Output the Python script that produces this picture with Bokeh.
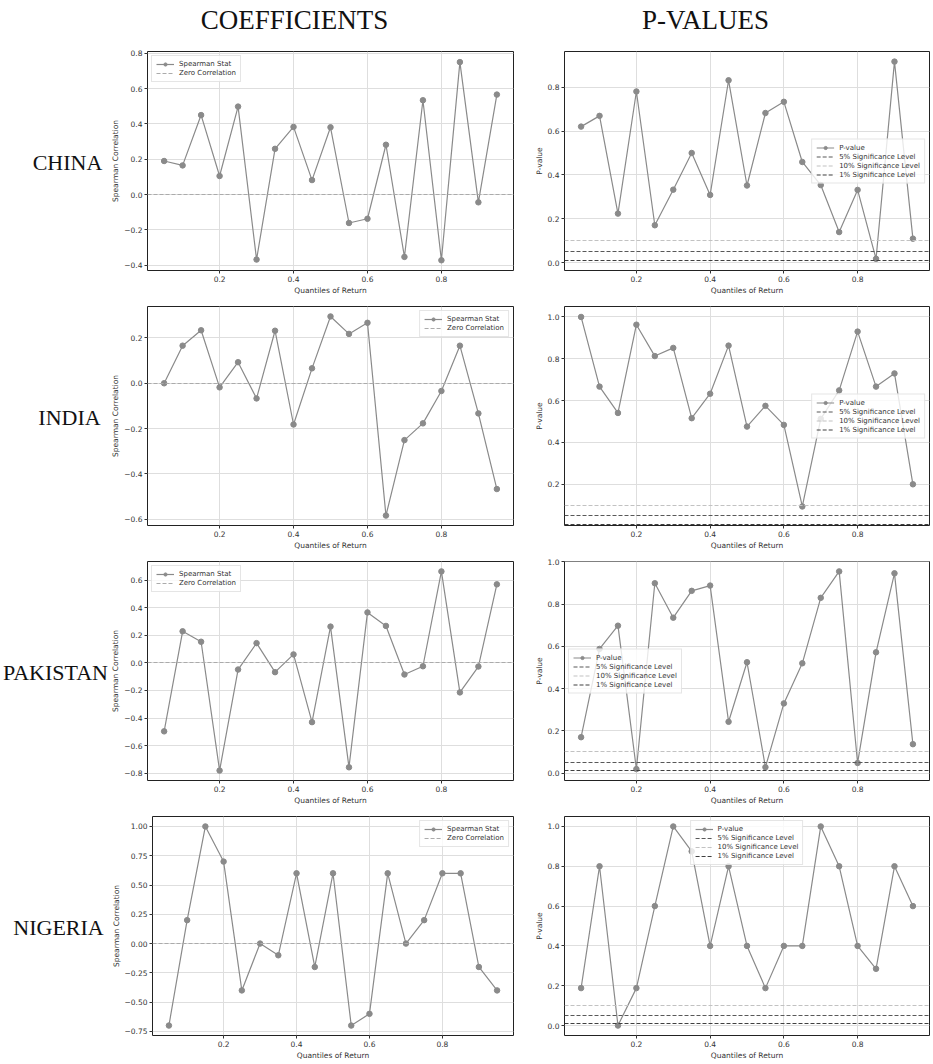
from bokeh.plotting import figure
from bokeh.layouts import column, row
from bokeh.models import Range1d, FixedTicker, CustomJSTickFormatter
from bokeh.core.properties import value
from bokeh.embed import file_html
from bokeh.resources import INLINE

# ---------------- data ----------------
quantiles = [0.05, 0.10, 0.15, 0.20, 0.25, 0.30, 0.35, 0.40, 0.45, 0.50,
             0.55, 0.60, 0.65, 0.70, 0.75, 0.80, 0.85, 0.90, 0.95]

countries = ["CHINA", "INDIA", "PAKISTAN", "NIGERIA"]
col_titles = ["COEFFICIENTS", "P-VALUES"]

china_coef = [0.19, 0.165, 0.45, 0.105, 0.498, -0.368, 0.259, 0.383, 0.082, 0.381,
              -0.161, -0.137, 0.282, -0.353, 0.534, -0.372, 0.75, -0.044, 0.566]
china_pval = [0.62, 0.669, 0.224, 0.78, 0.171, 0.333, 0.5, 0.309, 0.831, 0.352,
              0.682, 0.733, 0.459, 0.354, 0.14, 0.332, 0.018, 0.916, 0.11]

india_coef = [0.0, 0.166, 0.234, -0.018, 0.093, -0.067, 0.232, -0.182, 0.066, 0.295,
              0.218, 0.267, -0.584, -0.251, -0.177, -0.034, 0.166, -0.133, -0.467]
india_pval = [1.0, 0.667, 0.541, 0.963, 0.813, 0.852, 0.516, 0.633, 0.863, 0.476,
              0.575, 0.484, 0.094, 0.513, 0.649, 0.93, 0.667, 0.73, 0.2]

pakistan_coef = [-0.497, 0.23, 0.154, -0.782, -0.048, 0.144, -0.067, 0.062, -0.43, 0.264,
                 -0.758, 0.367, 0.269, -0.084, -0.024, 0.665, -0.214, -0.026, 0.571]
pakistan_pval = [0.17, 0.588, 0.698, 0.019, 0.899, 0.736, 0.863, 0.888, 0.243, 0.525,
                 0.028, 0.33, 0.52, 0.83, 0.955, 0.048, 0.572, 0.946, 0.137]

nigeria_coef = [-0.7, 0.2, 1.0, 0.7, -0.4, 0.0, -0.1, 0.6, -0.2, 0.6,
                -0.7, -0.6, 0.6, 0.0, 0.2, 0.6, 0.6, -0.2, -0.4]
nigeria_pval = [0.188, 0.8, 0.0, 0.188, 0.6, 1.0, 0.875, 0.4, 0.8, 0.4,
                0.188, 0.4, 0.4, 1.0, 0.8, 0.4, 0.285, 0.8, 0.6]

zero_level = [0.0]
sig_levels = [0.05, 0.10, 0.01]
sig_labels = ["5% Significance Level", "10% Significance Level", "1% Significance Level"]

x_ticks = [0.2, 0.4, 0.6, 0.8]

coef_series = [china_coef, india_coef, pakistan_coef, nigeria_coef]
pval_series = [china_pval, india_pval, pakistan_pval, nigeria_pval]

coef_ticks = [[-0.4, -0.2, 0.0, 0.2, 0.4, 0.6, 0.8],
              [-0.6, -0.4, -0.2, 0.0, 0.2],
              [-0.8, -0.6, -0.4, -0.2, 0.0, 0.2, 0.4, 0.6],
              [-0.75, -0.5, -0.25, 0.0, 0.25, 0.5, 0.75, 1.0]]
pval_ticks = [[0.0, 0.2, 0.4, 0.6, 0.8],
              [0.2, 0.4, 0.6, 0.8, 1.0],
              [0.0, 0.2, 0.4, 0.6, 0.8, 1.0],
              [0.0, 0.2, 0.4, 0.6, 0.8, 1.0]]

# ---------------- style / layout ----------------
coef_yrange = [(-0.43, 0.81), (-0.628, 0.339), (-0.854, 0.737), (-0.785, 1.085)]
pval_yrange = [(-0.035, 0.962), (0.003, 1.05), (-0.035, 1.002), (-0.05, 1.05)]
coef_dec = [1, 1, 1, 2]
coef_legend_loc = ["top_left", "top_right", "top_left", "top_right"]
pval_legend_loc = ["center_right", "center_right", "center_left", "top_center"]
label_x = [67, 69, 55, 58]

SERIES_COLOR = "#8a8a8a"
ZERO_COLOR = "#ababab"
SIG_COLORS = ["#585858", "#c2c2c2", "#404040"]
TEXT_COLOR = "#333333"
AX_FONT = "DejaVu Sans"

ROW_H = 255
LABEL_W = 108
LEFT_W = 423
RIGHT_W = 400
TITLE_H = 43


def minus_formatter(dec):
    return CustomJSTickFormatter(
        args=dict(d=dec),
        code="const s = Math.abs(tick).toFixed(d); return (tick < -1e-12 ? '\\u2212' : '') + s;")


def style_axes(p, ylabel, yticks, ydec):
    p.xaxis.ticker = FixedTicker(ticks=x_ticks)
    p.xaxis.formatter = CustomJSTickFormatter(code="return tick.toFixed(1);")
    p.yaxis.ticker = FixedTicker(ticks=yticks)
    p.yaxis.formatter = minus_formatter(ydec)
    p.xaxis.axis_label = "Quantiles of Return"
    p.yaxis.axis_label = ylabel
    for ax in (p.xaxis[0], p.yaxis[0]):
        ax.axis_line_color = None
        ax.major_tick_line_color = "#333333"
        ax.major_tick_out = 3
        ax.major_tick_in = 0
        ax.minor_tick_line_color = None
        ax.major_label_text_font = AX_FONT
        ax.major_label_text_font_size = "7.5px"
        ax.major_label_text_color = TEXT_COLOR
        ax.major_label_standoff = 2
        ax.axis_label_text_font = AX_FONT
        ax.axis_label_text_font_size = "7.5px"
        ax.axis_label_text_font_style = "normal"
        ax.axis_label_text_color = TEXT_COLOR
        ax.axis_label_standoff = 1
    p.grid.grid_line_color = "#dedede"
    p.grid.grid_line_width = 1
    p.outline_line_color = "#222222"
    p.outline_line_width = 1


def style_legend(p, loc):
    lg = p.legend[0]
    lg.location = loc
    lg.label_text_font = AX_FONT
    lg.label_text_font_size = "7px"
    lg.label_text_color = TEXT_COLOR
    lg.glyph_width = 18
    lg.glyph_height = 8
    lg.label_height = 8
    lg.label_standoff = 5
    lg.spacing = 1
    lg.padding = 4
    lg.margin = 4
    lg.border_line_color = "#cccccc"
    lg.background_fill_alpha = 0.8


def base_fig(width, yr, mb_left, mb_right):
    return figure(width=width, height=ROW_H,
                  x_range=Range1d(0.005, 0.995), y_range=Range1d(*yr),
                  output_backend="svg", toolbar_location=None,
                  min_border_left=mb_left, min_border_right=mb_right,
                  min_border_top=8, min_border_bottom=28,
                  background_fill_color="white", border_fill_color="white")


def coef_panel(i):
    p = base_fig(LEFT_W, coef_yrange[i], 35, 18)
    vals = coef_series[i]
    p.line(quantiles, vals, line_color=SERIES_COLOR, line_width=1.2, legend_label="Spearman Stat")
    p.scatter(quantiles, vals, size=5.5, fill_color=SERIES_COLOR, line_color=SERIES_COLOR,
              legend_label="Spearman Stat")
    p.hspan(y=zero_level, line_color=ZERO_COLOR, line_dash="4 2", line_width=1.2,
            legend_label="Zero Correlation")
    style_axes(p, "Spearman Correlation", coef_ticks[i], coef_dec[i])
    style_legend(p, coef_legend_loc[i])
    return p


def pval_panel(i):
    p = base_fig(RIGHT_W, pval_yrange[i], 32, 2)
    vals = pval_series[i]
    p.line(quantiles, vals, line_color=SERIES_COLOR, line_width=1.2, legend_label="P-value")
    p.scatter(quantiles, vals, size=5.5, fill_color=SERIES_COLOR, line_color=SERIES_COLOR,
              legend_label="P-value")
    for lvl, lab, col in zip(sig_levels, sig_labels, SIG_COLORS):
        p.hspan(y=[lvl], line_color=col, line_dash="4 2", line_width=1.2, legend_label=lab)
    style_axes(p, "P-value", pval_ticks[i], 1)
    style_legend(p, pval_legend_loc[i])
    return p


def text_fig(width, height, texts, xs, ys, size):
    p = figure(width=width, height=height, x_range=Range1d(0, width), y_range=Range1d(0, height),
               output_backend="svg", toolbar_location=None, min_border=0,
               x_axis_location=None, y_axis_location=None)
    p.grid.visible = False
    p.outline_line_color = None
    p.text(x=xs, y=ys, text=texts, text_font=value("Liberation Serif"), text_font_size=size,
           text_align="center", text_baseline="middle", text_color="#111111")
    return p


title = text_fig(LABEL_W + LEFT_W + RIGHT_W, TITLE_H, col_titles, [294, 705],
                 [TITLE_H - 19, TITLE_H - 19], "27px")

rows = [title]
for i, name in enumerate(countries):
    lab = text_fig(LABEL_W, ROW_H, [name], [label_x[i]], [ROW_H - 129], "22px")
    rows.append(row(lab, coef_panel(i), pval_panel(i)))

layout = column(*rows)

open("out.html", "w").write(file_html(layout, INLINE))
